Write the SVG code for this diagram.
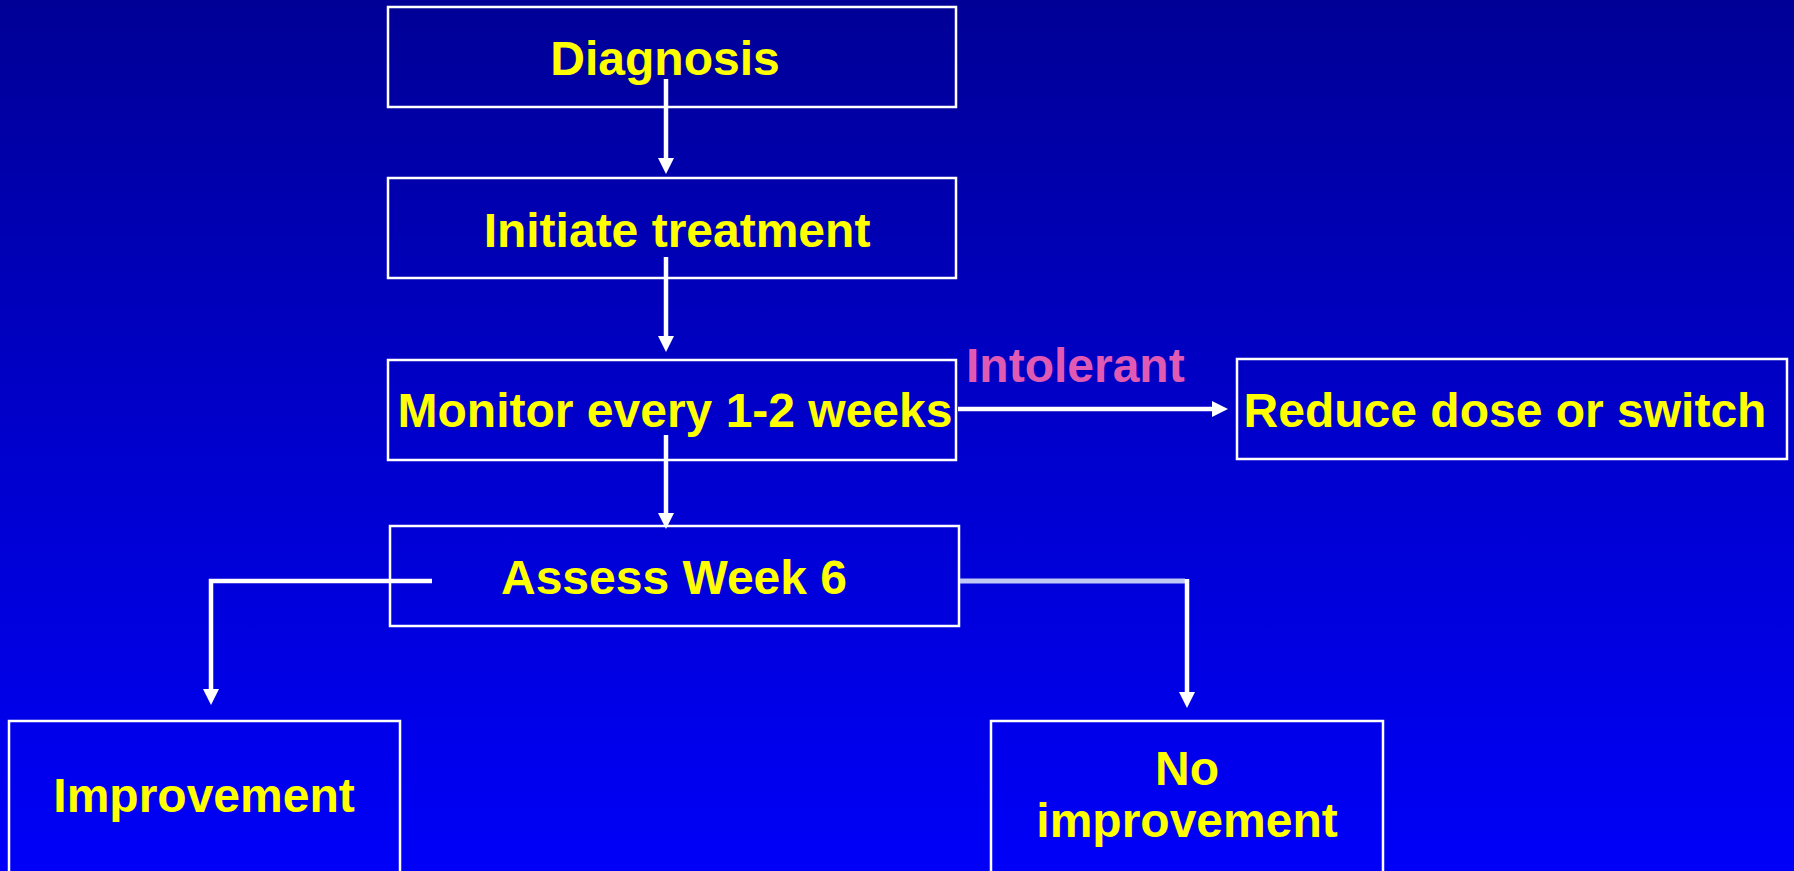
<svg xmlns="http://www.w3.org/2000/svg" width="1794" height="871" viewBox="0 0 1794 871">
<defs>
<linearGradient id="bg" x1="0" y1="0" x2="0" y2="1">
<stop offset="0" stop-color="#000096"/>
<stop offset="0.5" stop-color="#0000CC"/>
<stop offset="1" stop-color="#0000F8"/>
</linearGradient>
<marker id="ah" markerUnits="userSpaceOnUse" viewBox="0 0 16 16" markerWidth="16" markerHeight="16" refX="1" refY="8" orient="auto">
<path d="M0,0 L16,8 L0,16 z" fill="#FFFFFF"/>
</marker>
<style>
.box{fill:none;stroke:#FFFFFF;stroke-width:2.5}
.t{font-family:"Liberation Sans",Arial,sans-serif;font-weight:bold;font-size:48px;fill:#FFFF00;text-anchor:middle}
.lbl{font-family:"Liberation Sans",Arial,sans-serif;font-weight:bold;font-size:48px;fill:#E05AB4}
.c{fill:none;stroke:#FFFFFF;stroke-width:4.5}
</style>
</defs>
<rect x="0" y="0" width="1794" height="871" fill="url(#bg)"/>
<g id="diagnosis">
<rect class="box" x="388" y="7" width="568" height="100"/>
<text class="t" x="665" y="75">Diagnosis</text>
</g>
<g id="initiate">
<rect class="box" x="388" y="178" width="568" height="100"/>
<text class="t" x="677" y="247">Initiate treatment</text>
</g>
<g id="monitor">
<rect class="box" x="388" y="360" width="568" height="100"/>
<text class="t" x="675" y="427">Monitor every 1-2 weeks</text>
</g>
<g id="reduce">
<rect class="box" x="1237" y="359" width="550" height="100"/>
<text class="t" x="1505" y="427">Reduce dose or switch</text>
</g>
<g id="assess">
<rect class="box" x="390" y="526" width="569" height="100"/>
<text class="t" x="674" y="594">Assess Week 6</text>
</g>
<g id="improvement">
<rect class="box" x="9" y="721" width="391" height="170"/>
<text class="t" x="204" y="812">Improvement</text>
</g>
<g id="no-improvement">
<rect class="box" x="991" y="721" width="392" height="170"/>
<text class="t" x="1187" y="785">No</text>
<text class="t" x="1187" y="837">improvement</text>
</g>
<g id="connectors">
<line class="c" x1="666" y1="79" x2="666" y2="159" marker-end="url(#ah)"/>
<line class="c" x1="666" y1="257" x2="666" y2="337" marker-end="url(#ah)"/>
<line class="c" x1="666" y1="435" x2="666" y2="514" marker-end="url(#ah)"/>
<line class="c" x1="958" y1="409" x2="1213" y2="409" marker-end="url(#ah)"/>
<text class="lbl" x="966" y="382">Intolerant</text>
<polyline class="c" points="432,581 211,581 211,690" marker-end="url(#ah)"/>
<line x1="960" y1="581" x2="1185" y2="581" stroke="#C0C8F4" stroke-width="5"/>
<line class="c" x1="1187" y1="579" x2="1187" y2="693" marker-end="url(#ah)"/>
</g>
</svg>
